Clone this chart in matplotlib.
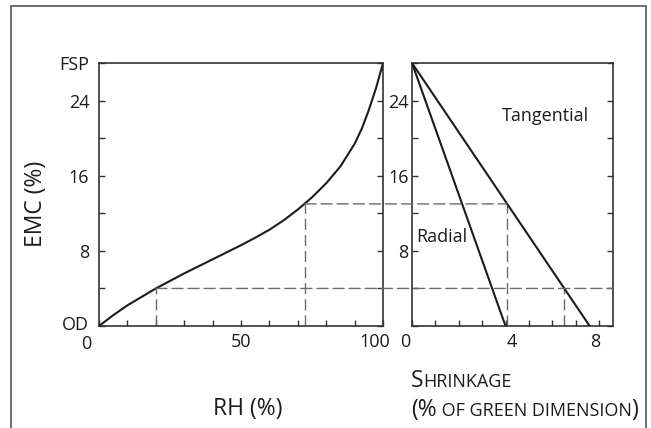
import matplotlib
matplotlib.use("Agg")
import matplotlib.pyplot as plt
import matplotlib.transforms as mtransforms
from matplotlib.patches import ConnectionPatch, Rectangle
from matplotlib.ticker import MultipleLocator

plt.rcParams['font.family'] = ['Open Sans', 'DejaVu Sans']

# Sorption isotherm: equilibrium moisture content (EMC, %) vs relative humidity (RH, %)
rh = [0, 5, 10, 20, 30, 40, 50, 55, 60, 65, 70, 75, 80, 85, 90, 92.5, 95, 97.5, 100]
emc = [0, 1.15, 2.2, 4.0, 5.6, 7.1, 8.6, 9.4, 10.25, 11.25, 12.4, 13.7, 15.2, 17.0,
       19.4, 21.0, 23.0, 25.3, 28.0]

# Fibre saturation point and total shrinkage from green to oven-dry
fsp = 28.0
radial_total = 4.0
tangential_total = 7.6

rh_marks = [20, 72.5]
emc_marks = [4.0, 13.0]

emc_ticks = [0, 8, 16, 24, 28]
emc_ticklabels = ['OD', '8', '16', '24', 'FSP']
rh_ticks = [0, 50, 100]
shrink_ticks = [0, 4, 8]
shrink_yticks = [8, 16, 24]

INK = '#1c1c1c'
AXC = '#333333'
DASH = '#6a6a6a'
dash_style = (0, (8, 3.6))

W, H = 651, 428
fig = plt.figure(figsize=(W / 100, H / 100), dpi=100)
ax1 = fig.add_axes([0.1521, 0.2383, 0.4363, 0.6145])
ax2 = fig.add_axes([0.6329, 0.2383, 0.3088, 0.6145])

# page frame around the figure
fig.add_artist(Rectangle((11 / W, -0.05), 635 / W, 1.05 - 6 / H, transform=fig.transFigure,
                         fill=False, edgecolor='#555555', lw=1.2, clip_on=False))

# --- left panel: isotherm ---
ax1.plot(rh, emc, color=INK, lw=1.5, solid_capstyle='round', solid_joinstyle='round',
         zorder=3)
ax1.set_xlim(0, 100)
ax1.set_ylim(0, fsp)
ax1.set_xticks(rh_ticks)
ax1.xaxis.set_minor_locator(MultipleLocator(10))
ax1.set_yticks(emc_ticks)
ax1.set_yticklabels(emc_ticklabels)
ax1.yaxis.set_minor_locator(MultipleLocator(4))
for r, e in zip(rh_marks, emc_marks):
    ax1.plot([r, r], [0, e], color=DASH, lw=1.0, linestyle=dash_style, zorder=2)

# --- right panel: shrinkage ---
ax2.plot([0, radial_total], [fsp, 0], color=INK, lw=1.5, zorder=3)
ax2.plot([0, tangential_total], [fsp, 0], color=INK, lw=1.5, zorder=3)
ax2.set_xlim(0, 8.6)
ax2.set_ylim(0, fsp)
ax2.set_xticks(shrink_ticks)
ax2.xaxis.set_minor_locator(MultipleLocator(1))
ax2.set_yticks(shrink_yticks)
ax2.yaxis.set_minor_locator(MultipleLocator(4))
ax2.text(5.7, 22.4, 'Tangential', fontsize=13, ha='center', va='center', color=INK)
ax2.text(0.2, 9.5, 'Radial', fontsize=13, ha='left', va='center', color=INK)

tang_at = [tangential_total * (1 - e / fsp) for e in emc_marks]
for t, e in zip(tang_at, emc_marks):
    ax2.plot([t, t], [0, e], color=DASH, lw=1.0, linestyle=dash_style, zorder=2)

# horizontal traces running from the isotherm across to the shrinkage panel
ends = [ax2.get_xlim()[1], tang_at[1]]
for r, e, xe in zip(rh_marks, emc_marks, ends):
    con = ConnectionPatch(xyA=(r, e), coordsA=ax1.transData,
                          xyB=(xe, e), coordsB=ax2.transData,
                          color=DASH, lw=1.0, linestyle=dash_style, zorder=1)
    fig.add_artist(con)

for ax in (ax1, ax2):
    for sp in ax.spines.values():
        sp.set_color(AXC)
        sp.set_linewidth(1.2)
    ax.tick_params(which='both', direction='in', length=4, width=1.0,
                   color=AXC, top=False, right=True, labelsize=13,
                   labelcolor=INK)
    ax.tick_params(axis='x', pad=5)
ax1.tick_params(axis='y', pad=7)
ax2.tick_params(axis='y', pad=2.5)


# shift a few tick labels, as they are set in print
def nudge(label, dx, dy=0):
    label.set_transform(label.get_transform() +
                        mtransforms.ScaledTranslation(dx / 100, dy / 100,
                                                      fig.dpi_scale_trans))


xl1 = ax1.get_xticklabels()
nudge(xl1[0], -13, -2)
nudge(xl1[-1], -8)
yl1 = ax1.get_yticklabels()
nudge(yl1[0], 0, 3)
xl2 = ax2.get_xticklabels()
nudge(xl2[0], -7)
nudge(xl2[1], 6)
nudge(xl2[2], -4)

# axis titles
fig.text(36 / W, 1 - 204 / H, 'EMC (%)', rotation=90, fontsize=16.5,
         ha='center', va='center', color=INK)
fig.text(248 / W, 1 - 415 / H, 'RH (%)', fontsize=16.5,
         ha='center', va='baseline', color=INK)

# small-caps title for the shrinkage axis, set run by run
renderer = fig.canvas.get_renderer()


def small_caps(parts, x_px, base_px):
    x = x_px
    for txt, size in parts:
        t = fig.text(x / W, 1 - base_px / H, txt, fontsize=size,
                     ha='left', va='baseline', color=INK)
        x += t.get_window_extent(renderer).width


big, small = 16.5, 13
small_caps([('S', big), ('HRINKAGE', small)], 411, 387)
small_caps([('(%', big), (' OF GREEN DIMENSION', small), (')', big)], 411, 416)

fig.savefig('out.png', dpi=100)
